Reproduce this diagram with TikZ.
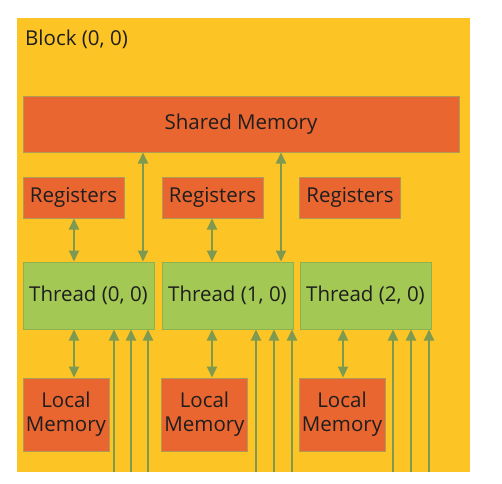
\documentclass[tikz,border=0pt]{standalone}
\usepackage{fontspec}
\setmainfont{Open Sans}
\usetikzlibrary{arrows.meta}
\definecolor{bgyel}{HTML}{FCC425}
\definecolor{memor}{HTML}{E96631}
\definecolor{thgr}{HTML}{A3C853}
\definecolor{arrgr}{HTML}{7D9A50}
\definecolor{orbd}{HTML}{B09A55}
\definecolor{grbd}{HTML}{8DB050}
\definecolor{txt}{HTML}{1E1E1E}
\tikzset{
  membox/.style={draw=orbd, fill=memor, line width=1pt, inner sep=0pt, text=txt, font=\fontsize{20.5}{24}\selectfont, align=center},
  thbox/.style={draw=grbd, fill=thgr, line width=1pt, inner sep=0pt, text=txt, font=\fontsize{20.5}{24}\selectfont},
  dbl/.style={draw=arrgr, line width=2pt, {Triangle[length=11pt,width=10pt]}-{Triangle[length=11pt,width=10pt]}},
  upar/.style={draw=arrgr, line width=2pt, -{Triangle[length=11pt,width=10pt]}},
}
\begin{document}
\begin{tikzpicture}[x=1pt,y=-1pt]
\useasboundingbox (0,0) rectangle (502,483);
\fill[white] (0,0) rectangle (502,483);
\fill[bgyel] (17,18) rectangle (470,472);
\node[anchor=west, text=txt, font=\fontsize{20.5}{24}\selectfont, inner sep=0pt] (blk) at (25,39) {Block (0, 0)};
% shared memory
\node[membox, minimum width=436pt, minimum height=56pt] (sh) at (241,124) {Shared Memory};
% registers
\node[membox, minimum width=101pt, minimum height=41pt] (r0) at (73.5,197.5) {Registers};
\node[membox, minimum width=101pt, minimum height=41pt] (r1) at (212.5,197.5) {Registers};
\node[membox, minimum width=101pt, minimum height=41pt] (r2) at (350,197.5) {Registers};
% threads
\node[thbox, minimum width=131pt, minimum height=67pt] (t0) at (88.5,295.5) {Thread (0, 0)};
\node[thbox, minimum width=131pt, minimum height=67pt] (t1) at (227.5,295.5) {Thread (1, 0)};
\node[thbox, minimum width=131pt, minimum height=67pt] (t2) at (365.5,295.5) {Thread (2, 0)};
% local memory
\node[membox, minimum width=86pt, minimum height=73pt] (l0) at (66,414.5) {Local\\Memory};
\node[membox, minimum width=86pt, minimum height=73pt] (l1) at (204.5,414.5) {Local\\Memory};
\node[membox, minimum width=86pt, minimum height=73pt] (l2) at (342,414.5) {Local\\Memory};
% register <-> thread
\coordinate (a0) at (74,0);
\coordinate (a1) at (212,0);
\coordinate (a2) at (343,0);
\draw[dbl] (r0.south -| a0) -- (t0.north -| a0);
\draw[dbl] (r1.south -| a1) -- (t1.north -| a1);
% shared <-> thread
\coordinate (s0) at (143,0);
\coordinate (s1) at (281,0);
\draw[dbl] (sh.south -| s0) -- (t0.north -| s0);
\draw[dbl] (sh.south -| s1) -- (t1.north -| s1);
% thread <-> local
\draw[dbl] (t0.south -| a0) -- (l0.north -| a0);
\draw[dbl] (t1.south -| a1) -- (l1.north -| a1);
\draw[dbl] (t2.south -| a2) -- (l2.north -| a2);
% up arrows from below
\foreach \x/\t [count=\i] in {114/t0,131/t0,148/t0,256/t1,274/t1,292/t1,393/t2,411/t2,429/t2}{
  \coordinate (u\i) at (\x,472);
  \draw[upar] (u\i) -- (\t.south -| u\i);
}
\end{tikzpicture}
\end{document}
